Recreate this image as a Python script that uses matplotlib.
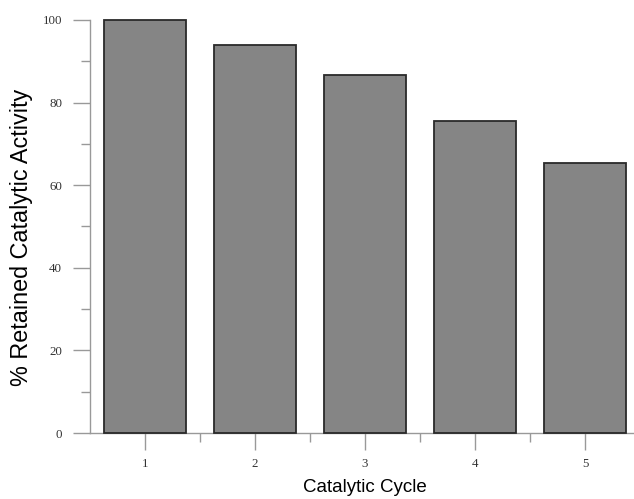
import matplotlib
matplotlib.use("Agg")
import matplotlib.pyplot as plt
from matplotlib.ticker import MultipleLocator, FixedLocator

# retained activity after each reuse cycle
cycles = [1, 2, 3, 4, 5]
activity = [100, 93.9, 86.8, 75.5, 65.3]
cycle_labels = ["1", "2", "3", "4", "5"]
y_ticks = [0, 20, 40, 60, 80, 100]

fig = plt.figure(figsize=(6.34, 4.99), dpi=100)
ax = fig.add_axes([90 / 634, 1 - 433 / 499, 1 - 90 / 634, 413 / 499])

ax.bar(cycles, activity, width=0.75, color="#858585", edgecolor="#2a2a2a",
       linewidth=1.3, zorder=3, clip_on=False)

ax.set_xlim(0.5, 5.445)
ax.set_ylim(0, 100)

# only left and bottom axis lines, drawn in grey
for side in ["top", "right"]:
    ax.spines[side].set_visible(False)
for side in ["left", "bottom"]:
    ax.spines[side].set_color("#999999")
    ax.spines[side].set_linewidth(1.0)

ax.set_yticks(y_ticks)
ax.set_yticklabels([str(v) for v in y_ticks])
ax.yaxis.set_minor_locator(MultipleLocator(10))
ax.set_xticks(cycles)
ax.set_xticklabels(cycle_labels)
# small separators between neighbouring bars
ax.xaxis.set_minor_locator(FixedLocator([c + 0.5 for c in cycles[:-1]]))

ax.tick_params(axis="both", which="major", length=12, width=1.0, color="#999999",
               labelcolor="#333333", labelsize=9.3)
ax.tick_params(axis="both", which="minor", length=6.2, width=1.0, color="#999999")
ax.tick_params(axis="x", which="major", pad=6)
ax.tick_params(axis="y", which="major", pad=8)
for lab in ax.get_xticklabels() + ax.get_yticklabels():
    lab.set_family("Liberation Serif")

ax.set_xlabel("Catalytic Cycle", family="Liberation Sans", fontsize=13.5, va="center")
ax.xaxis.set_label_coords((365 - 90) / 544, (433 - 488) / 413)
ax.set_ylabel("% Retained Catalytic Activity", family="Liberation Sans", fontsize=16.8, va="center")
ax.yaxis.set_label_coords((22 - 90) / 544, (433 - 237) / 413)

fig.savefig("out.png", dpi=100)
